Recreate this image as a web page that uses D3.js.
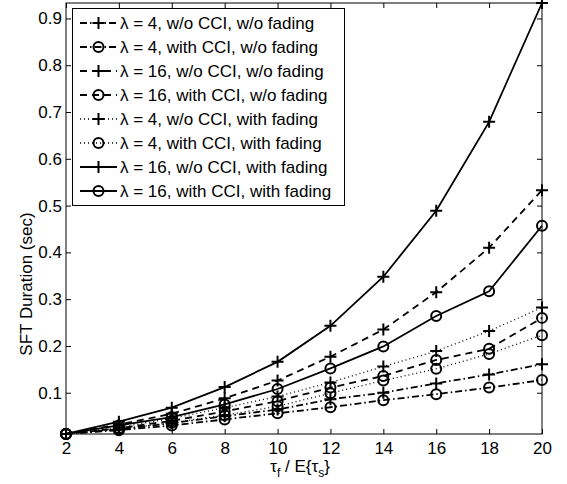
<!DOCTYPE html>
<html>
<head>
<meta charset="utf-8">
<script src="https://cdn.jsdelivr.net/npm/d3@7"></script>
<style>
  body { margin: 0; background: #fff; }
  text { font-family: "Liberation Sans", Arial, Helvetica, sans-serif; }
</style>
</head>
<body>
<div class="container"></div>
<script>
// x values (tau_f / E{tau_s})
const xVals = [2, 4, 6, 8, 10, 12, 14, 16, 18, 20];

// one array per curve
const l4NoCciNoFade   = [0.012, 0.022, 0.035, 0.050, 0.064, 0.086, 0.100, 0.120, 0.139, 0.161];
const l4CciNoFade     = [0.012, 0.020, 0.030, 0.043, 0.056, 0.069, 0.084, 0.097, 0.111, 0.127];
const l16NoCciNoFade  = [0.012, 0.032, 0.055, 0.088, 0.126, 0.177, 0.235, 0.315, 0.410, 0.533];
const l16CciNoFade    = [0.012, 0.024, 0.040, 0.060, 0.082, 0.111, 0.136, 0.170, 0.194, 0.260];
const l4NoCciFade     = [0.012, 0.026, 0.045, 0.068, 0.092, 0.122, 0.156, 0.189, 0.232, 0.282];
const l4CciFade       = [0.012, 0.022, 0.036, 0.052, 0.071, 0.099, 0.126, 0.151, 0.183, 0.223];
const l16NoCciFade    = [0.012, 0.038, 0.068, 0.112, 0.166, 0.243, 0.348, 0.489, 0.679, 0.933];
const l16CciFade      = [0.012, 0.030, 0.048, 0.075, 0.108, 0.152, 0.199, 0.264, 0.317, 0.457];

const labels = [
  "λ = 4, w/o CCI, w/o fading",
  "λ = 4, with CCI, w/o fading",
  "λ = 16, w/o CCI, w/o fading",
  "λ = 16, with CCI, w/o fading",
  "λ = 4, w/o CCI, with fading",
  "λ = 4, with CCI, with fading",
  "λ = 16, w/o CCI, with fading",
  "λ = 16, with CCI, with fading"
];

const xTicks = [2, 4, 6, 8, 10, 12, 14, 16, 18, 20];
const yTicks = [0.1, 0.2, 0.3, 0.4, 0.5, 0.6, 0.7, 0.8, 0.9];

const series = [
  { vals: l4NoCciNoFade,  dash: "7,3,1.5,3", marker: "plus" },
  { vals: l4CciNoFade,    dash: "7,3,1.5,3", marker: "circle" },
  { vals: l16NoCciNoFade, dash: "7,5",       marker: "plus" },
  { vals: l16CciNoFade,   dash: "7,5",       marker: "circle" },
  { vals: l4NoCciFade,    dash: "1,3",       marker: "plus" },
  { vals: l4CciFade,      dash: "1,3",       marker: "circle" },
  { vals: l16NoCciFade,   dash: null,        marker: "plus" },
  { vals: l16CciFade,     dash: null,        marker: "circle" }
];

const width = 567, height = 484;
const padL = 66, padR = 542, padT = 3, padB = 434;
const fs = "17px";

const xScale = d3.scaleLinear().domain([2, 20]).range([padL, padR]);
const yScale = d3.scaleLinear().domain([0.0118, 0.933]).range([padB, padT]);

const svg = d3.select(".container").append("svg")
  .attr("width", width)
  .attr("height", height);

// axes, MATLAB-like boxed with inward ticks
const xAxis = d3.axisBottom(xScale).tickValues(xTicks).tickSize(-5).tickPadding(8).tickFormat(d3.format("d"));
const yAxis = d3.axisLeft(yScale).tickValues(yTicks).tickSize(-5).tickPadding(4).tickFormat(d3.format(".1f"));

svg.append("g").attr("transform", `translate(0,${padB})`).call(xAxis);
svg.append("g").attr("transform", `translate(${padL},0)`).call(yAxis);
svg.append("g").attr("transform", `translate(0,${padT})`)
  .call(d3.axisTop(xScale).tickValues(xTicks).tickSize(-5).tickFormat(""));
svg.append("g").attr("transform", `translate(${padR},0)`)
  .call(d3.axisRight(yScale).tickValues(yTicks).tickSize(-5).tickFormat(""));

svg.selectAll(".domain").remove();
svg.selectAll(".tick line").attr("stroke", "#000");
svg.selectAll(".tick text")
  .attr("fill", "#000")
  .style("font-size", fs)
  .style("font-family", '"Liberation Sans", Arial, Helvetica, sans-serif');

svg.append("rect")
  .attr("x", padL).attr("y", padT)
  .attr("width", padR - padL).attr("height", padB - padT)
  .attr("fill", "none").attr("stroke", "#000").attr("stroke-width", 1);

// curves
const line = d3.line().x((d, i) => xScale(xVals[i])).y(d => yScale(d));

function drawMarker(g, type, x, y) {
  if (type === "circle") {
    g.append("circle").attr("cx", x).attr("cy", y).attr("r", 5)
      .attr("fill", "none").attr("stroke", "#000").attr("stroke-width", 2);
  } else {
    g.append("path")
      .attr("d", `M${x - 6},${y}H${x + 6}M${x},${y - 6}V${y + 6}`)
      .attr("stroke", "#000").attr("stroke-width", 2);
  }
}

series.forEach(s => {
  svg.append("path")
    .datum(s.vals)
    .attr("d", line)
    .attr("fill", "none")
    .attr("stroke", "#000")
    .attr("stroke-width", s.dash === "1,3" ? 1.3 : 1.8)
    .attr("stroke-dasharray", s.dash);
  const g = svg.append("g");
  s.vals.forEach((v, i) => drawMarker(g, s.marker, xScale(xVals[i]), yScale(v)));
});

// legend
const legend = svg.append("g");
legend.append("rect")
  .attr("x", 72.5).attr("y", 8.5)
  .attr("width", 272).attr("height", 197)
  .attr("fill", "#fff").attr("stroke", "#000").attr("stroke-width", 1);

series.forEach((s, i) => {
  const yy = 23 + i * 24.0;
  legend.append("line")
    .attr("x1", 80).attr("x2", 117).attr("y1", yy).attr("y2", yy)
    .attr("stroke", "#000")
    .attr("stroke-width", s.dash === "1,3" ? 1.3 : 1.8)
    .attr("stroke-dasharray", s.dash);
  drawMarker(legend, s.marker, 98.5, yy);
  legend.append("text")
    .attr("x", 120).attr("y", yy + 6)
    .style("font-size", fs)
    .text(labels[i]);
});

// axis titles
const xt = svg.append("text")
  .attr("x", 300).attr("y", 472)
  .attr("text-anchor", "middle")
  .style("font-size", fs);
xt.append("tspan").text("τ");
xt.append("tspan").attr("dy", 5).style("font-size", "12px").text("f");
xt.append("tspan").attr("dy", -5).text(" / E{τ");
xt.append("tspan").attr("dy", 5).style("font-size", "12px").text("s");
xt.append("tspan").attr("dy", -5).text("}");

svg.append("text")
  .attr("transform", "translate(32,284) rotate(-90)")
  .attr("text-anchor", "middle")
  .style("font-size", fs)
  .text("SFT Duration (sec)");
</script>
</body>
</html>
